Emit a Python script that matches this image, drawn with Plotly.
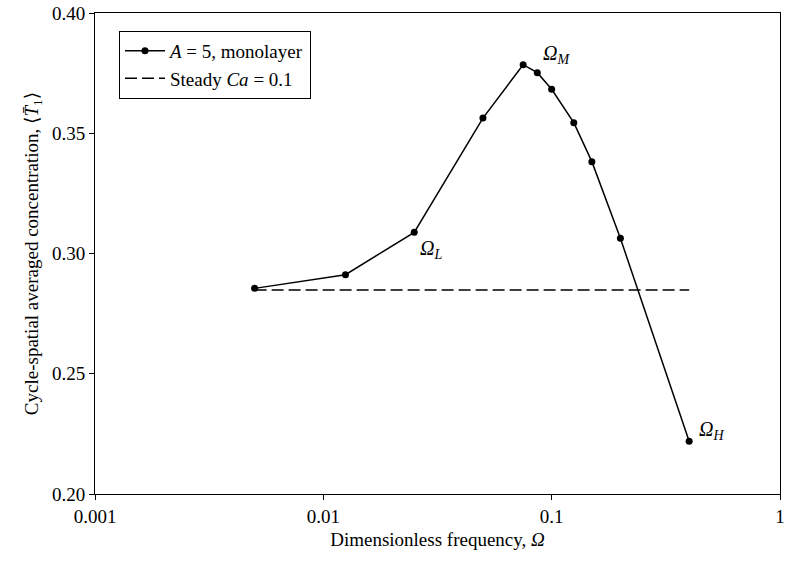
import math
import plotly.graph_objects as go

omega = [0.005, 0.0125, 0.025, 0.05, 0.075, 0.0865, 0.1, 0.125, 0.15, 0.2, 0.4]
conc = [0.2855, 0.2912, 0.3088, 0.3563, 0.3785, 0.3752, 0.3683, 0.3544, 0.3382, 0.3063, 0.2219]
steady_x = [0.005, 0.4]
steady_y = [0.2848, 0.2848]
x_ticks = [0.001, 0.01, 0.1, 1]
x_tick_labels = ["0.001", "0.01", "0.1", "1"]
y_ticks = [0.20, 0.25, 0.30, 0.35, 0.40]

labels = [
    (0.075, 0.3785, "<i>Ω</i><sub><i>M</i></sub>", 18, 10),
    (0.025, 0.3088, "<i>Ω</i><sub><i>L</i></sub>", 4, -17),
    (0.4, 0.2219, "<i>Ω</i><sub><i>H</i></sub>", 8, 11),
]

FONT = "Liberation Serif, Times New Roman, DejaVu Serif, serif"
FS = 19

fig = go.Figure()
fig.add_trace(go.Scatter(
    x=omega, y=conc, mode="lines+markers",
    line=dict(color="black", width=1.5),
    marker=dict(color="black", size=7),
    name="<i>A</i> = 5, monolayer",
))
fig.add_trace(go.Scatter(
    x=steady_x, y=steady_y, mode="lines",
    line=dict(color="black", width=1.5, dash="12px,5px"),
    name="Steady <i>Ca</i> = 0.1",
))

for xv, yv, txt, xs, ys in labels:
    fig.add_annotation(x=math.log10(xv), y=yv, xref="x", yref="y", text=txt, showarrow=False,
                       xanchor="left", yanchor="middle", xshift=xs, yshift=ys,
                       font=dict(family=FONT, size=FS + 1, color="black"))

fig.update_layout(
    width=788, height=565,
    margin=dict(l=95, r=3, t=10, b=71),
    paper_bgcolor="white", plot_bgcolor="white",
    font=dict(family=FONT, size=FS, color="black"),
    showlegend=True,
    legend=dict(x=0.035, y=0.963, xanchor="left", yanchor="top",
                bordercolor="black", borderwidth=1, bgcolor="white",
                font=dict(family=FONT, size=FS, color="black"),
                tracegroupgap=0, itemwidth=40),
)
fig.update_xaxes(
    type="log", range=[-3, 0],
    tickvals=x_ticks, ticktext=x_tick_labels, ticklabeloverflow="allow",
    showline=True, linecolor="black", linewidth=1, mirror=True,
    ticks="outside", ticklen=5, tickcolor="black",
    showgrid=False, zeroline=False,
    title=dict(text="Dimensionless frequency, <i>Ω</i>", font=dict(family=FONT, size=FS), standoff=6),
    tickfont=dict(family=FONT, size=FS),
)
fig.update_yaxes(
    range=[0.2, 0.4], tickvals=y_ticks, tickformat=".2f", ticklabeloverflow="allow",
    showline=True, linecolor="black", linewidth=1, mirror=True,
    ticks="outside", ticklen=5, tickcolor="black",
    showgrid=False, zeroline=False,
    title=dict(text="Cycle-spatial averaged concentration, ⟨<i>T̄</i><sub>1</sub>⟩",
               font=dict(family=FONT, size=FS), standoff=8),
    tickfont=dict(family=FONT, size=FS),
)

fig.write_html("out.html")
